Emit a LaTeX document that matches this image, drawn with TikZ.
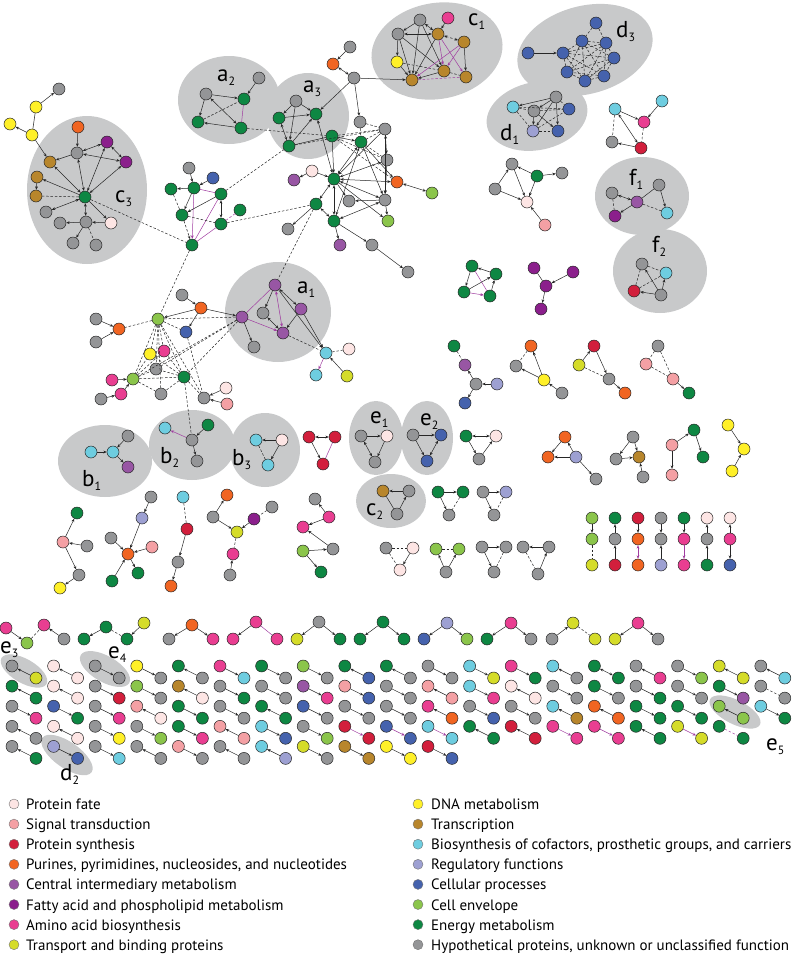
\documentclass[tikz,border=0pt]{standalone}
\usepackage{fontspec}
\setmainfont{PT Sans}
\newfontfamily\legfont{PT Sans}
\usetikzlibrary{arrows.meta}

\definecolor{colpf}{RGB}{253,229,228}
\definecolor{colst}{RGB}{244,160,164}
\definecolor{colps}{RGB}{210,31,60}
\definecolor{colpu}{RGB}{241,101,34}
\definecolor{colcim}{RGB}{152,86,164}
\definecolor{colfa}{RGB}{139,31,140}
\definecolor{colaa}{RGB}{233,62,145}
\definecolor{coltb}{RGB}{213,220,41}
\definecolor{coldna}{RGB}{255,240,40}
\definecolor{coltr}{RGB}{184,134,44}
\definecolor{colbc}{RGB}{110,205,224}
\definecolor{colrf}{RGB}{157,160,210}
\definecolor{colcp}{RGB}{69,98,173}
\definecolor{colce}{RGB}{139,197,75}
\definecolor{colem}{RGB}{14,135,67}
\definecolor{colhy}{RGB}{148,149,151}
\definecolor{colblob}{RGB}{200,201,202}
\definecolor{colvio}{RGB}{160,60,160}

\begin{document}
\begin{tikzpicture}[x=1pt,y=-1pt,
	nd/.style={circle,draw=black!85,line width=0.5pt,minimum size=12pt,inner sep=0pt,fill=col#1},
	swatch/.style={circle,draw=black!55,line width=0.4pt,minimum size=10pt,inner sep=0pt,fill=col#1},
	blob/.style={fill=colblob},
	lnk/.style={draw=black!85,line width=0.5pt,>={Stealth[length=3.4pt,width=2.8pt]}},
	fw/.style={lnk,->}, bw/.style={lnk,<-}, bi/.style={lnk,<->}, ln/.style={lnk,-},
	dl/.style={lnk,-,dash pattern=on 2.5pt off 1.8pt},
	dfw/.style={dl,->}, dbi/.style={dl,<->},
	pl/.style={lnk,-,draw=colvio}, pfw/.style={pl,->}, pbi/.style={pl,<->},
	pdl/.style={dl,draw=colvio},
	lab/.style={anchor=base west,inner sep=0pt,font=\fontsize{23}{23}\selectfont},
	leg/.style={anchor=base west,inner sep=0pt,font=\legfont\fontsize{15}{16}\selectfont}]

	\useasboundingbox (0,0) rectangle (794,954);

	% Draw blobs
	\fill[blob] (87,190) ellipse [x radius=60,y radius=74];
	\fill[blob] (229,100) ellipse [x radius=51,y radius=44];
	\fill[blob] (308,116) ellipse [x radius=41,y radius=43];
	\fill[blob] (278,312) ellipse [x radius=53,y radius=50];
	\fill[blob,rotate around={10:(437,51)}] (437,51) ellipse [x radius=66,y radius=48];
	\fill[blob,rotate around={15:(585,50)}] (585,50) ellipse [x radius=69,y radius=44];
	\fill[blob,rotate around={12:(537,116)}] (537,116) ellipse [x radius=51,y radius=34];
	\fill[blob] (642,196) ellipse [x radius=47,y radius=39];
	\fill[blob] (660,271) ellipse [x radius=47,y radius=42];
	\fill[blob] (105,461) ellipse [x radius=47,y radius=36];
	\fill[blob] (192,445) ellipse [x radius=43,y radius=35];
	\fill[blob] (265,450) ellipse [x radius=35,y radius=37];
	\fill[blob] (376,438) ellipse [x radius=27,y radius=37];
	\fill[blob] (427,438) ellipse [x radius=26,y radius=37];
	\fill[blob] (391,501) ellipse [x radius=35,y radius=27];
	\fill[blob,rotate around={-30:(24,671)}] (24,671) ellipse [x radius=26,y radius=12];
	\fill[blob,rotate around={-30:(105,669)}] (105,669) ellipse [x radius=28,y radius=13];
	\fill[blob,rotate around={-35:(67,755)}] (67,755) ellipse [x radius=30,y radius=13];
	\fill[blob,rotate around={-27:(735,712)}] (735,712) ellipse [x radius=28,y radius=12];

	% Yellow chain and c3
	\node[nd=hy] (yc1) at (59,89) {};
	\node[nd=dna] (yc2) at (36,107) {};
	\node[nd=dna] (yc3) at (10,124) {};
	\node[nd=dna] (yc4) at (32,135) {};
	\node[nd=pu] (c3o) at (78,127) {};
	\node[nd=hy] (c3g) at (77,153) {};
	\node[nd=fa] (c3p1) at (107,142) {};
	\node[nd=fa] (c3p2) at (126,162) {};
	\node[nd=tr] (c3b1) at (50,162) {};
	\node[nd=tr] (c3b2) at (37,177) {};
	\node[nd=tr] (c3b3) at (36,196) {};
	\node[nd=em] (c3e) at (85,197) {};
	\node[nd=hy] (c3h1) at (46,212) {};
	\node[nd=hy] (c3h2) at (60,223) {};
	\node[nd=hy] (c3h3) at (86,222) {};
	\node[nd=pf] (c3f) at (111,223) {};
	\node[nd=hy] (c3h4) at (73,243) {};
	\node[nd=hy] (c3h5) at (96,245) {};

	% Left middle cluster
	\node[nd=hy] (lmh) at (189,168) {};
	\node[nd=cp] (lmb) at (213,178) {};
	\node[nd=em] (lm1) at (171,189) {};
	\node[nd=em] (lm2) at (194,188) {};
	\node[nd=em] (lm3) at (221,194) {};
	\node[nd=em] (lm4) at (182,215) {};
	\node[nd=em] (lm5) at (240,210) {};
	\node[nd=em] (lm6) at (221,224) {};
	\node[nd=em] (lm7) at (192,245) {};

	% a2, a3
	\node[nd=hy] (a2h1) at (259,78) {};
	\node[nd=hy] (a2h2) at (206,94) {};
	\node[nd=em] (a2e1) at (244,99) {};
	\node[nd=em] (a2e2) at (198,122) {};
	\node[nd=em] (a2e3) at (241,128) {};
	\node[nd=hy] (a3h) at (296,101) {};
	\node[nd=em] (a3e1) at (279,118) {};
	\node[nd=em] (a3e2) at (316,114) {};
	\node[nd=em] (a3e3) at (289,146) {};
	\node[nd=em] (a3e4) at (332,136) {};

	% Central cluster
	\node[nd=hy] (ceh0) at (350,47) {};
	\node[nd=pu] (ceo) at (333,64) {};
	\node[nd=hy] (ceh1) at (354,78) {};
	\node[nd=hy] (ceh2) at (360,122) {};
	\node[nd=hy] (ceh3) at (385,129) {};
	\node[nd=em] (ceg1) at (361,142) {};
	\node[nd=hy] (ceh4) at (387,160) {};
	\node[nd=pf] (cepf) at (312,171) {};
	\node[nd=cim] (cecm) at (294,180) {};
	\node[nd=em] (ceg0) at (334,179) {};
	\node[nd=pu] (ceo2) at (397,182) {};
	\node[nd=ce] (cel) at (432,193) {};
	\node[nd=hy] (ceh5) at (349,201) {};
	\node[nd=hy] (ceh6) at (385,200) {};
	\node[nd=em] (ceg2) at (316,204) {};
	\node[nd=em] (ceg3) at (334,221) {};
	\node[nd=ce] (cel2) at (388,221) {};
	\node[nd=hy] (ceh7) at (288,229) {};
	\node[nd=cim] (cecm2) at (340,245) {};
	\node[nd=hy] (ceh8) at (372,245) {};
	\node[nd=hy] (ceh9) at (408,272) {};

	% c1
	\node[nd=hy] (c1h1) at (420,20) {};
	\node[nd=aa] (c1aa) at (448,18) {};
	\node[nd=hy] (c1h2) at (398,34) {};
	\node[nd=tr] (c1b1) at (438,34) {};
	\node[nd=tr] (c1b2) at (464,42) {};
	\node[nd=dna] (c1y) at (397,62) {};
	\node[nd=tr] (c1b3) at (444,71) {};
	\node[nd=tr] (c1b4) at (412,80) {};
	\node[nd=tr] (c1b5) at (466,77) {};

	% d3, d1
	\node[nd=cp] (d3a) at (596,23) {};
	\node[nd=cp] (d3b) at (528,53) {};
	\node[nd=cp] (d3c) at (563,53) {};
	\node[nd=cp] (d3d) at (582,41) {};
	\node[nd=cp] (d3e) at (606,43) {};
	\node[nd=cp] (d3f) at (614,58) {};
	\node[nd=cp] (d3g) at (604,76) {};
	\node[nd=cp] (d3h) at (585,81) {};
	\node[nd=cp] (d3i) at (567,72) {};
	\node[nd=bc] (d1c) at (513,107) {};
	\node[nd=hy] (d1h1) at (556,97) {};
	\node[nd=hy] (d1h2) at (534,111) {};
	\node[nd=cp] (d1b1) at (569,109) {};
	\node[nd=rf] (d1l) at (533,131) {};
	\node[nd=cp] (d1b2) at (558,131) {};

	% Right small clusters, f1, f2
	\node[nd=bc] (rsc1) at (615,109) {};
	\node[nd=bc] (rsc2) at (662,101) {};
	\node[nd=aa] (rsa) at (644,122) {};
	\node[nd=hy] (rsh) at (612,142) {};
	\node[nd=ps] (rsr) at (641,148) {};
	\node[nd=hy] (bdh1) at (512,164) {};
	\node[nd=em] (bde) at (537,176) {};
	\node[nd=hy] (bdh2) at (562,173) {};
	\node[nd=hy] (bdh3) at (495,189) {};
	\node[nd=pf] (bdf) at (527,202) {};
	\node[nd=st] (bds) at (545,225) {};
	\node[nd=hy] (f1h1) at (612,193) {};
	\node[nd=cim] (f1m) at (637,202) {};
	\node[nd=hy] (f1h2) at (659,185) {};
	\node[nd=fa] (f1f) at (615,216) {};
	\node[nd=bc] (f1c) at (667,213) {};
	\node[nd=hy] (f2h1) at (642,264) {};
	\node[nd=bc] (f2c) at (666,273) {};
	\node[nd=ps] (f2r) at (634,291) {};
	\node[nd=hy] (f2h2) at (661,295) {};
	\node[nd=em] (gs1) at (472,266) {};
	\node[nd=em] (gs2) at (496,274) {};
	\node[nd=em] (gs3) at (464,292) {};
	\node[nd=em] (gs4) at (490,296) {};
	\node[nd=fa] (psa) at (534,268) {};
	\node[nd=fa] (psb) at (573,272) {};
	\node[nd=fa] (psc) at (546,286) {};
	\node[nd=fa] (psd) at (541,309) {};

	% Lower middle cluster and a1
	\node[nd=hy] (mlh1) at (182,295) {};
	\node[nd=pu] (mlo1) at (201,308) {};
	\node[nd=ce] (mll1) at (158,319) {};
	\node[nd=hy] (mlh2) at (96,319) {};
	\node[nd=pu] (mlo2) at (119,329) {};
	\node[nd=hy] (mlh3) at (96,342) {};
	\node[nd=cp] (mlb) at (186,332) {};
	\node[nd=dna] (mly) at (150,354) {};
	\node[nd=aa] (mlaa1) at (164,351) {};
	\node[nd=hy] (mlh4) at (156,369) {};
	\node[nd=em] (mlg) at (184,377) {};
	\node[nd=aa] (mlaa2) at (112,380) {};
	\node[nd=ce] (mll2) at (133,379) {};
	\node[nd=aa] (mlaa3) at (121,394) {};
	\node[nd=hy] (mlh5) at (101,399) {};
	\node[nd=hy] (mlh6) at (161,394) {};
	\node[nd=hy] (mlh7) at (204,398) {};
	\node[nd=pf] (mlpf) at (226,388) {};
	\node[nd=st] (mlst) at (227,404) {};
	\node[nd=cim] (a1m1) at (275,285) {};
	\node[nd=cim] (a1m2) at (301,309) {};
	\node[nd=hy] (a1h) at (263,313) {};
	\node[nd=cim] (a1m3) at (242,317) {};
	\node[nd=cim] (a1m4) at (283,333) {};
	\node[nd=hy] (a1h2) at (254,347) {};
	\node[nd=bc] (a1c) at (326,353) {};
	\node[nd=pf] (a1pf) at (349,349) {};
	\node[nd=bc] (a1c2) at (316,375) {};
	\node[nd=tb] (a1tb) at (347,376) {};

	% b1, b2, b3 and small triangles
	\node[nd=bc] (b1c1) at (91,452) {};
	\node[nd=bc] (b1c2) at (113,452) {};
	\node[nd=hy] (b1h) at (128,436) {};
	\node[nd=cim] (b1m) at (128,467) {};
	\node[nd=bc] (b2c) at (165,428) {};
	\node[nd=em] (b2g) at (208,425) {};
	\node[nd=hy] (b2h1) at (192,440) {};
	\node[nd=hy] (b2h2) at (197,461) {};
	\node[nd=bc] (b3c1) at (256,440) {};
	\node[nd=pf] (b3pf) at (282,440) {};
	\node[nd=bc] (b3c2) at (268,465) {};
	\node[nd=ps] (rt1) at (309,437) {};
	\node[nd=ps] (rt2) at (335,437) {};
	\node[nd=ps] (rt3) at (323,464) {};
	\node[nd=hy] (e1h1) at (361,436) {};
	\node[nd=pf] (e1pf) at (387,436) {};
	\node[nd=hy] (e1h2) at (375,462) {};
	\node[nd=hy] (e2h) at (413,435) {};
	\node[nd=cp] (e2b1) at (441,435) {};
	\node[nd=cp] (e2b2) at (427,461) {};
	\node[nd=em] (t1g) at (466,436) {};
	\node[nd=pf] (t1pf) at (496,436) {};
	\node[nd=hy] (t1h) at (479,459) {};
	\node[nd=pu] (t2o1) at (565,437) {};
	\node[nd=pu] (t2o2) at (548,457) {};
	\node[nd=rf] (t2l) at (576,457) {};
	\node[nd=hy] (t2h) at (596,479) {};
	\node[nd=hy] (t3h1) at (633,437) {};
	\node[nd=hy] (t3h2) at (616,459) {};
	\node[nd=tr] (t3b) at (639,457) {};
	\node[nd=hy] (t3h3) at (643,477) {};
	\node[nd=em] (t4g1) at (694,430) {};
	\node[nd=st] (t4s1) at (672,445) {};
	\node[nd=em] (t4g2) at (703,457) {};
	\node[nd=st] (t4s2) at (672,475) {};
	\node[nd=dna] (t5y1) at (728,425) {};
	\node[nd=dna] (t5y2) at (744,449) {};
	\node[nd=dna] (t5y3) at (732,471) {};
	\node[nd=em] (t6g1) at (438,492) {};
	\node[nd=em] (t6g2) at (463,492) {};
	\node[nd=hy] (t6h) at (449,515) {};
	\node[nd=hy] (t7h1) at (483,492) {};
	\node[nd=rf] (t7l) at (506,492) {};
	\node[nd=hy] (t7h2) at (494,515) {};
	\node[nd=tr] (c2b) at (383,491) {};
	\node[nd=hy] (c2h1) at (409,491) {};
	\node[nd=hy] (c2h2) at (397,514) {};
	\node[nd=hy] (t8h) at (386,548) {};
	\node[nd=pf] (t8pf1) at (413,548) {};
	\node[nd=pf] (t8pf2) at (400,570) {};
	\node[nd=ce] (t9l1) at (436,549) {};
	\node[nd=ce] (t9l2) at (459,549) {};
	\node[nd=hy] (t9h) at (446,572) {};
	\node[nd=hy] (t10h1) at (482,547) {};
	\node[nd=hy] (t10h2) at (506,547) {};
	\node[nd=hy] (t10h3) at (494,572) {};
	\node[nd=hy] (t11h1) at (523,547) {};
	\node[nd=hy] (t11h2) at (549,547) {};
	\node[nd=hy] (t11h3) at (538,574) {};

	% Row of small groups right of a1
	\node[nd=em] (u1g) at (454,346) {};
	\node[nd=cim] (u1m) at (465,365) {};
	\node[nd=hy] (u1h) at (476,384) {};
	\node[nd=rf] (u1l) at (497,384) {};
	\node[nd=cp] (u1b) at (465,403) {};
	\node[nd=pu] (u2o) at (531,346) {};
	\node[nd=hy] (u2h1) at (516,366) {};
	\node[nd=dna] (u2y) at (544,380) {};
	\node[nd=hy] (u2h2) at (562,393) {};
	\node[nd=ps] (u3r) at (594,346) {};
	\node[nd=tb] (u3t) at (579,365) {};
	\node[nd=hy] (u3h) at (609,379) {};
	\node[nd=pu] (u3o) at (625,393) {};
	\node[nd=hy] (u4h) at (658,346) {};
	\node[nd=st] (u4s1) at (646,364) {};
	\node[nd=st] (u4s2) at (673,379) {};
	\node[nd=em] (u4g) at (689,393) {};

	% Lower left groups
	\node[nd=em] (v1g) at (77,513) {};
	\node[nd=st] (v1s) at (63,542) {};
	\node[nd=hy] (v1h1) at (87,546) {};
	\node[nd=hy] (v1h2) at (79,575) {};
	\node[nd=dna] (v1y) at (60,588) {};
	\node[nd=hy] (v2h1) at (151,497) {};
	\node[nd=rf] (v2l) at (142,518) {};
	\node[nd=hy] (v2h2) at (111,538) {};
	\node[nd=st] (v2s) at (152,547) {};
	\node[nd=pu] (v2o) at (128,554) {};
	\node[nd=em] (v2g1) at (112,581) {};
	\node[nd=em] (v2g2) at (138,573) {};
	\node[nd=bc] (v3c) at (183,497) {};
	\node[nd=ps] (v3r) at (187,529) {};
	\node[nd=hy] (v3h) at (178,562) {};
	\node[nd=pu] (v3o) at (171,586) {};
	\node[nd=pu] (v4o) at (227,495) {};
	\node[nd=hy] (v4h1) at (213,517) {};
	\node[nd=tb] (v4t) at (237,532) {};
	\node[nd=fa] (v4f) at (254,519) {};
	\node[nd=hy] (v4h2) at (272,507) {};
	\node[nd=aa] (v4aa) at (233,554) {};
	\node[nd=hy] (v4h3) at (230,575) {};
	\node[nd=hy] (v5h1) at (315,499) {};
	\node[nd=aa] (v5aa1) at (329,517) {};
	\node[nd=aa] (v5aa2) at (303,527) {};
	\node[nd=hy] (v5h2) at (333,549) {};
	\node[nd=ce] (v5l) at (303,551) {};
	\node[nd=em] (v5g) at (321,572) {};

	% Triplets row
	\node[nd=aa] (w1a) at (6,628) {};
	\node[nd=ce] (w1b) at (27,643) {};
	\node[nd=aa] (w1c) at (44,625) {};
	\node[nd=hy] (w1d) at (64,639) {};
	\node[nd=em] (w2a) at (84,639) {};
	\node[nd=em] (w2b) at (106,627) {};
	\node[nd=em] (w2c) at (127,639) {};
	\node[nd=tb] (w2d) at (144,623) {};
	\node[nd=hy] (w3a) at (169,639) {};
	\node[nd=pu] (w3b) at (192,625) {};
	\node[nd=aa] (w3c) at (213,639) {};
	\node[nd=aa] (w4a) at (233,639) {};
	\node[nd=aa] (w4b) at (256,622) {};
	\node[nd=aa] (w4c) at (277,639) {};
	\node[nd=tb] (w5a) at (297,639) {};
	\node[nd=hy] (w5b) at (319,622) {};
	\node[nd=em] (w5c) at (340,639) {};
	\node[nd=em] (w6a) at (360,639) {};
	\node[nd=em] (w6b) at (383,622) {};
	\node[nd=em] (w6c) at (404,639) {};
	\node[nd=cp] (w7a) at (424,639) {};
	\node[nd=rf] (w7b) at (447,623) {};
	\node[nd=ce] (w7c) at (467,639) {};
	\node[nd=em] (w8a) at (487,639) {};
	\node[nd=aa] (w8b) at (511,623) {};
	\node[nd=hy] (w8c) at (531,639) {};
	\node[nd=hy] (w9a) at (552,639) {};
	\node[nd=tb] (w9b) at (573,623) {};
	\node[nd=tb] (w9c) at (595,639) {};
	\node[nd=tb] (w10a) at (615,639) {};
	\node[nd=aa] (w10b) at (638,623) {};
	\node[nd=hy] (w10c) at (658,639) {};

	% Connectors
	\path (yc2) edge[fw] (yc1) edge[ln] (yc4);
	\path (yc4) edge[fw] (yc3) edge[fw] (c3b1);
	\path (c3o) edge[fw] (c3g);
	\path (c3g) edge[bi] (c3p1) edge[bi] (c3p2) edge[fw] (c3b1) edge[bi] (c3e);
	\path (c3p1) edge[bi] (c3p2);
	\path (c3b2) edge[fw] (c3b3);
	\path (c3e) edge[bi] (c3b1) edge[fw] (c3b2) edge[dl] (c3b3) edge[bi] (c3p1) edge[bi] (c3p2)
		edge[bi] (c3h1) edge[bi] (c3h3) edge[fw] (c3f) edge[dl] (lm7);
	\path (c3f) edge[fw] (c3h3);
	\path (c3h3) edge[fw] (c3h2) edge[fw] (c3h4) edge[dl] (c3h5);

	\path (lmh) edge[fw] (lm2);
	\path (lmb) edge[fw] (lm2);
	\path (lm2) edge[fw] (lm1) edge[pl] (lm3) edge[fw] (lm4) edge[pfw] (lm7);
	\path (lm3) edge[fw] (lm4) edge[bi] (lm6) edge[pl] (lm7) edge[dl] (a3e3);
	\path (lm5) edge[pdl] (lm6);
	\path (lm1) edge[dl] (lm4);
	\path (lm4) edge[dl] (lm6) edge[dfw] (lm7);
	\path (lm6) edge[pl] (lm7) edge[dl] (ceg2);
	\path (lm7) edge[dl] (mll1);

	\path (a2h1) edge[fw] (a2e1);
	\path (a2h2) edge[fw] (a2e1) edge[fw] (a2e2) edge[bi] (a2e3);
	\path (a2e2) edge[dl] (a2e1);
	\path (a2e3) edge[fw] (a2e2) edge[pl] (a2e1) edge[dl] (a3e4);
	\path (a3h) edge[fw] (a3e1) edge[fw] (a3e2) edge[fw] (a3e3);
	\path (a3e1) edge[fw] (a3e2) edge[bi] (a3e3);
	\path (a3e3) edge[fw] (a3e2) edge[ln] (a3e4) edge[dl] (ceh3);

	\path (ceh0) edge[fw] (ceo);
	\path (ceo) edge[bi] (ceh1);
	\path (ceh1) edge[fw] (c1b4) edge[fw] (a3e2) edge[fw] (ceh2);
	\path (ceh2) edge[dl] (ceh3) edge[dl] (ceg1);
	\path (a3e4) edge[dl] (ceh3) edge[fw] (ceg1) edge[fw] (ceg0) edge[dl] (ceh4) edge[dl] (ceo2);
	\path (a3e2) edge[bi] (ceg0);
	\path (ceh3) edge[bi] (ceh4) edge[dl] (ceg1) edge[fw] (ceg0) edge[fw] (ceh6);
	\path (ceg1) edge[bi] (ceg0) edge[fw] (ceh6) edge[fw] (ceo2) edge[bi] (ceg3) edge[dl] (ceh4);
	\path (ceg0) edge[bi] (ceh4) edge[bi] (ceo2) edge[bi] (ceh6) edge[fw] (ceh5) edge[bi] (ceg2)
		edge[bi] (ceg3) edge[fw] (cel2);
	\path (cepf) edge[fw] (ceg0) edge[fw] (cecm);
	\path (ceo2) edge[bi] (cel);
	\path (ceh4) edge[fw] (ceh6);
	\path (ceh6) edge[fw] (cel2) edge[bi] (ceg3) edge[fw] (ceh5);
	\path (ceg2) edge[fw] (ceh7) edge[bi] (ceg3) edge[dl] (a1m1);
	\path (ceg3) edge[fw] (cecm2) edge[fw] (ceh8);
	\path (ceh8) edge[fw] (ceh9);

	\path (c1h1) edge[fw] (c1h2) edge[bi] (c1b1) edge[fw] (c1b4) edge[fw] (c1b3);
	\path (c1aa) edge[fw] (c1b1);
	\path (c1h2) edge[bi] (c1b1) edge[fw] (c1y) edge[fw] (c1b4) edge[fw] (c1b3);
	\path (c1y) edge[fw] (c1b4) edge[dl] (c1b3);
	\path (c1b1) edge[fw] (c1b4) edge[dbi] (c1b2) edge[pfw] (c1b5) edge[pfw] (c1b3);
	\path (c1b2) edge[fw] (c1b5) edge[pfw] (c1b4) edge[pfw] (c1b3);
	\path (c1b3) edge[fw] (c1b4) edge[dl] (c1b5);
	\path (c1b4) edge[pdl] (c1b5);

	\path (d3b) edge[fw] (d3c);
	\path (d3a) edge[dl] (d3d) edge[dl] (d3e);
	\foreach \u/\v in {c/d,c/e,c/f,c/g,c/h,c/i,d/e,d/f,d/g,d/h,d/i,e/f,e/g,e/h,e/i,f/g,f/h,f/i,g/h,g/i,h/i}
		\path (d3\u) edge[dl] (d3\v);
	\path (d1h1) edge[fw] (d1c) edge[fw] (d1h2) edge[fw] (d1l) edge[fw] (d1b2) edge[dl] (d1b1);
	\path (d1c) edge[dl] (d1b1) edge[dl] (d1l) edge[dl] (d1h2);
	\path (d1h2) edge[fw] (d1l) edge[fw] (d1b2) edge[dl] (d1b1);
	\path (d1l) edge[dl] (d1b2) edge[dl] (d1b1);

	\path (rsc1) edge[fw] (rsa) edge[bi] (rsr) edge[dl] (rsh);
	\path (rsc2) edge[fw] (rsa);
	\path (rsa) edge[dl] (rsr);
	\path (rsr) edge[fw] (rsh);
	\path (bdh3) edge[fw] (bdh1) edge[fw] (bdf);
	\path (bde) edge[fw] (bdh1) edge[fw] (bdh2) edge[fw] (bdf);
	\path (bdh1) edge[fw] (bdf);
	\path (bds) edge[fw] (bdf);
	\path (f1h1) edge[bi] (f1m) edge[dl] (f1f);
	\path (f1m) edge[fw] (f1f) edge[dl] (f1c) edge[ln] (f1h2);
	\path (f1h2) edge[fw] (f1c);
	\path (f2h1) edge[dl] (f2c) edge[dl] (f2r);
	\path (f2r) edge[dl] (f2c);
	\path (f2h2) edge[fw] (f2h1) edge[fw] (f2r) edge[fw] (f2c);
	\path (gs2) edge[fw] (gs1);
	\path (gs1) edge[fw] (gs3) edge[pl] (gs4);
	\path (gs3) edge[pfw] (gs4) edge[fw] (gs2);
	\path (gs4) edge[fw] (gs2);
	\path (psc) edge[ln] (psa) edge[fw] (psd);
	\path (psb) edge[fw] (psc);

	\path (mlh1) edge[fw] (mlo1);
	\path (mlo1) edge[fw] (mll1) edge[fw] (mlb) edge[fw] (a1m3);
	\path (mlh2) edge[fw] (mlo2);
	\path (mlh3) edge[fw] (mlo2);
	\path (mll1) edge[dl] (mlo2) edge[dl] (a1m3) edge[dl] (mlb) edge[dl] (mly) edge[dl] (mlaa1)
		edge[dl] (mlh4) edge[dl] (mlg) edge[dl] (mll2) edge[dl] (mlh6) edge[dl] (mlh7);
	\path (mlb) edge[dl] (mlh7);
	\path (a1m3) edge[dl] (mll2) edge[dl] (mlg) edge[dl] (mlh4);
	\path (mll2) edge[dl] (mlg) edge[dl] (mlh4) edge[dl] (mly) edge[dl] (mlh6) edge[dl] (mlaa1);
	\path (mlaa2) edge[fw] (mll2);
	\path (mlh5) edge[fw] (mlaa3);
	\path (mlaa3) edge[fw] (mll2);
	\path (mlg) edge[dl] (mlh6) edge[dl] (mlh7) edge[dl] (mly) edge[dl] (mlaa1) edge[dl] (mlh4) edge[dl] (b2h1);
	\path (mlpf) edge[fw] (mlh7);
	\path (mlst) edge[fw] (mlh7);
	\path (a1m1) edge[fw] (a1h) edge[pbi] (a1m4) edge[pl] (a1m3) edge[bi] (a1m2) edge[fw] (a1c);
	\path (a1m2) edge[fw] (a1m4) edge[fw] (a1c);
	\path (a1m3) edge[pfw] (a1m4) edge[fw] (a1h2);
	\path (a1h) edge[bi] (a1m4);
	\path (a1m4) edge[dl] (a1c);
	\path (a1c) edge[dl] (a1pf) edge[pfw] (a1c2);
	\path (a1tb) edge[fw] (a1c);

	\path (b1c1) edge[fw] (b1c2);
	\path (b1h) edge[fw] (b1c2);
	\path (b1c2) edge[fw] (b1m);
	\path (b2h1) edge[pfw] (b2c) edge[fw] (b2h2);
	\path (b2g) edge[fw] (b2h1);
	\path (b3pf) edge[fw] (b3c1) edge[fw] (b3c2);
	\path (b3c1) edge[dl] (b3c2);
	\path (rt1) edge[bi] (rt2) edge[fw] (rt3);
	\path (rt2) edge[pl] (rt3);
	\path (e1h1) edge[fw] (e1pf) edge[bi] (e1h2);
	\path (e1pf) edge[fw] (e1h2);
	\path (e2h) edge[fw] (e2b1) edge[fw] (e2b2);
	\path (e2b1) edge[bi] (e2b2);
	\path (t1g) edge[bi] (t1pf) edge[fw] (t1h);
	\path (t1h) edge[fw] (t1pf);
	\path (t2o1) edge[fw] (t2o2);
	\path (t2l) edge[fw] (t2o2) edge[fw] (t2h) edge[fw] (t2o1);
	\path (t3h1) edge[fw] (t3h2) edge[fw] (t3b);
	\path (t3h2) edge[fw] (t3b);
	\path (t3h3) edge[fw] (t3b);
	\path (t4s1) edge[fw] (t4g1) edge[fw] (t4s2);
	\path (t4g1) edge[fw] (t4g2);
	\path (t5y1) edge[fw] (t5y2);
	\path (t5y3) edge[fw] (t5y2);
	\path (t6g1) edge[fw] (t6g2) edge[fw] (t6h);
	\path (t6g2) edge[dl] (t6h);
	\path (t7h1) edge[fw] (t7l) edge[fw] (t7h2);
	\path (t7l) edge[dl] (t7h2);
	\path (c2h1) edge[fw] (c2b);
	\path (c2b) edge[ln] (c2h2);
	\path (c2h2) edge[fw] (c2h1);
	\path (t8h) edge[dl] (t8pf1) edge[dl] (t8pf2);
	\path (t8pf1) edge[fw] (t8pf2);
	\path (t9l1) edge[dl] (t9l2);
	\path (t9h) edge[fw] (t9l1) edge[fw] (t9l2);
	\path (t10h1) edge[fw] (t10h2) edge[fw] (t10h3);
	\path (t10h2) edge[dl] (t10h3);
	\path (t11h2) edge[fw] (t11h1);
	\path (t11h1) edge[dl] (t11h3);
	\path (t11h3) edge[fw] (t11h2);

	\path (u1g) edge[dl] (u1m);
	\path (u1h) edge[fw] (u1m) edge[fw] (u1b);
	\path (u1l) edge[fw] (u1h);
	\path (u2o) edge[dl] (u2h1);
	\path (u2y) edge[fw] (u2o) edge[fw] (u2h1);
	\path (u2h2) edge[fw] (u2y);
	\path (u3t) edge[fw] (u3r) edge[dl] (u3h);
	\path (u3r) edge[fw] (u3h);
	\path (u3h) edge[fw] (u3o);
	\path (u4h) edge[dl] (u4s1) edge[dl] (u4s2);
	\path (u4s1) edge[dl] (u4s2);
	\path (u4s2) edge[fw] (u4g);

	\path (v1s) edge[fw] (v1g) edge[fw] (v1h2);
	\path (v1h1) edge[fw] (v1s);
	\path (v1h2) edge[fw] (v1y);
	\path (v2h1) edge[fw] (v2l);
	\path (v2l) edge[fw] (v2o);
	\path (v2h2) edge[fw] (v2o);
	\path (v2s) edge[fw] (v2o);
	\path (v2o) edge[fw] (v2g2);
	\path (v2g1) edge[fw] (v2o);
	\path (v3c) edge[dl] (v3r);
	\path (v3r) edge[fw] (v3h);
	\path (v3h) edge[fw] (v3o);
	\path (v4h1) edge[fw] (v4o) edge[fw] (v4t);
	\path (v4f) edge[fw] (v4t);
	\path (v4h2) edge[dl] (v4f);
	\path (v4t) edge[dl] (v4aa);
	\path (v4h3) edge[fw] (v4aa);
	\path (v5aa1) edge[fw] (v5h1) edge[fw] (v5aa2);
	\path (v5h2) edge[fw] (v5aa2);
	\path (v5l) edge[fw] (v5h2) edge[fw] (v5g);

	\path (w1a) edge[fw] (w1b);
	\path (w1b) edge[dl] (w1c);
	\path (w1d) edge[fw] (w1c);
	\path (w2b) edge[fw] (w2a) edge[dl] (w2c);
	\path (w2d) edge[fw] (w2c);
	\path (w3b) edge[fw] (w3a) edge[fw] (w3c);
	\path (w4b) edge[fw] (w4a) edge[pl] (w4c);
	\path (w5b) edge[fw] (w5a) edge[fw] (w5c);
	\path (w6b) edge[fw] (w6a) edge[fw] (w6c);
	\path (w7b) edge[fw] (w7a) edge[fw] (w7c);
	\path (w8b) edge[fw] (w8a) edge[fw] (w8c);
	\path (w9a) edge[fw] (w9b);
	\path (w9b) edge[dl] (w9c);
	\path (w10b) edge[fw] (w10a) edge[fw] (w10c);

	% Vertical triplets
	\foreach \i/\ca/\cb/\cc/\ea/\eb in {0/ce/ce/tb/fw/dl, 1/em/hy/ps/bw/bw, 2/ps/pu/pu/fw/pbi,
		3/hy/hy/rf/fw/bw, 4/em/aa/aa/fw/pfw, 5/pf/hy/em/bw/bw, 6/pf/aa/cp/bw/fw}{
		\node[nd=\ca] (vt\i) at ({592+23*\i},518) {};
		\node[nd=\cb] (vm\i) at ({592+23*\i},539) {};
		\node[nd=\cc] (vb\i) at ({592+23*\i},565) {};
		\draw[\ea] (vt\i) -- (vm\i);
		\draw[\eb] (vm\i) -- (vb\i);
	}

	% Pairs
	\foreach \c/\r/\cl/\cr/\e in {
		0/1/hy/tb/bw, 0/2/em/em/bw, 0/3/hy/aa/fw, 0/4/hy/hy/bw, 0/5/hy/em/bw,
		1/1/pf/pf/bw, 1/2/pf/pf/bw, 1/3/cp/em/fw, 1/4/pf/pf/bw, 1/5/rf/cp/fw,
		2/1/hy/hy/fw, 2/2/hy/ps/fw, 2/3/hy/aa/fw, 2/4/hy/dna/fw, 2/5/hy/bc/fw,
		3/1/dna/hy/fw, 3/2/ce/hy/fw, 3/3/st/pf/bw, 3/4/hy/ce/fw, 3/5/hy/hy/bw,
		4/1/em/hy/bw, 4/2/tr/pf/bw, 4/3/em/em/fw, 4/4/em/aa/fw, 4/5/st/hy/fw,
		5/1/aa/bc/fw, 5/2/hy/em/fw, 5/3/hy/hy/fw, 5/4/st/st/bw, 5/5/hy/hy/bw,
		6/1/em/hy/fw, 6/2/hy/hy/fw, 6/3/em/em/bw, 6/4/bc/cp/fw, 6/5/bc/rf/bw,
		7/1/ce/hy/fw, 7/2/cim/aa/fw, 7/3/cp/hy/fw, 7/4/hy/ce/fw, 7/5/tb/hy/fw,
		8/1/em/cp/bw, 8/2/st/cp/fw, 8/3/hy/hy/fw, 8/4/ps/ps/pfw, 8/5/tr/tr/fw,
		9/1/em/hy/bw, 9/2/hy/hy/fw, 9/3/hy/hy/fw, 9/4/cp/cp/pfw, 9/5/dna/dna/fw,
		10/1/hy/hy/fw, 10/2/st/st/bw, 10/3/aa/pu/bw, 10/4/bc/bc/pfw, 10/5/ps/cp/fw,
		11/1/bc/tb/fw, 11/2/bc/aa/fw, 11/3/hy/cp/fw, 11/4/em/em/bw,
		12/1/aa/em/fw, 12/2/pf/pf/bw, 12/3/hy/hy/fw, 12/4/ps/ps/bw,
		13/1/bc/hy/bw, 13/2/hy/hy/fw, 13/3/bc/tr/bw, 13/4/aa/aa/pfw,
		14/1/em/em/bi, 14/2/em/hy/fw, 14/3/pu/pu/bw, 14/4/aa/aa/pfw,
		15/1/hy/aa/bw, 15/2/hy/em/fw, 15/3/em/em/fw, 15/4/em/em/bw,
		16/1/hy/ce/fw, 16/2/hy/hy/fw, 16/3/em/em/fw, 16/4/tb/tb/pfw,
		17/1/tb/tb/bw, 17/2/em/cim/fw, 17/3/ce/ce/bw, 17/4/em/em/pdl,
		18/1/hy/bc/bw, 18/2/hy/hy/dl, 18/3/bc/em/fw}{
		\node[nd=\cl] (gl\c-\r) at ({12+41.6*\c},{666+20.1*(\r-1)}) {};
		\node[nd=\cr] (gr\c-\r) at ({36+41.6*\c},{678+20.1*(\r-1)}) {};
		\draw[\e] (gl\c-\r) -- (gr\c-\r);
	}

	% Labels
	\node[lab] (lc3) at (115,202) {c\raisebox{-4pt}{\large 3}};
	\node[lab] (la2) at (217,81) {a\raisebox{-4pt}{\large 2}};
	\node[lab] (la3) at (303,92) {a\raisebox{-4pt}{\large 3}};
	\node[lab] (la1) at (297,293) {a\raisebox{-4pt}{\large 1}};
	\node[lab] (lc1) at (468,25) {c\raisebox{-4pt}{\large 1}};
	\node[lab] (ld3) at (616,37) {d\raisebox{-4pt}{\large 3}};
	\node[lab] (ld1) at (500,140) {d\raisebox{-4pt}{\large 1}};
	\node[lab] (lf1) at (629,185) {f\raisebox{-4pt}{\large 1}};
	\node[lab] (lf2) at (652,252) {f\raisebox{-4pt}{\large 2}};
	\node[lab] (lb1) at (82,486) {b\raisebox{-4pt}{\large 1}};
	\node[lab] (lb2) at (160,463) {b\raisebox{-4pt}{\large 2}};
	\node[lab] (lb3) at (232,465) {b\raisebox{-4pt}{\large 3}};
	\node[lab] (le1) at (370,423) {e\raisebox{-4pt}{\large 1}};
	\node[lab] (le2) at (420,425) {e\raisebox{-4pt}{\large 2}};
	\node[lab] (lc2) at (366,515) {c\raisebox{-4pt}{\large 2}};
	\node[lab] (le3) at (0,653) {e\raisebox{-4pt}{\large 3}};
	\node[lab] (le4) at (108,658) {e\raisebox{-4pt}{\large 4}};
	\node[lab] (ld2) at (60,780) {d\raisebox{-4pt}{\large 2}};
	\node[lab] (le5) at (766,750) {e\raisebox{-4pt}{\large 5}};

	% Legend
	\foreach \cl/\tx [count=\i from 0] in {pf/Protein fate, st/Signal transduction, ps/Protein synthesis,
		pu/{Purines, pyrimidines, nucleosides, and nucleotides}, cim/Central intermediary metabolism,
		fa/Fatty acid and phospholipid metabolism, aa/Amino acid biosynthesis, tb/Transport and binding proteins}{
		\node[swatch=\cl] (k-\cl) at (14,{804+20.1*\i}) {};
		\node[leg] (t-\cl) at (26,{809.5+20.1*\i}) {\tx};
	}
	\foreach \cl/\tx [count=\i from 0] in {dna/DNA metabolism, tr/Transcription,
		bc/{Biosynthesis of cofactors, prosthetic groups, and carriers}, rf/Regulatory functions,
		cp/Cellular processes, ce/Cell envelope, em/Energy metabolism,
		hy/{Hypothetical proteins, unknown or unclassified function}}{
		\node[swatch=\cl] (k-\cl) at (418,{804+20.1*\i}) {};
		\node[leg] (t-\cl) at (431,{809.5+20.1*\i}) {\tx};
	}

\end{tikzpicture}
\end{document}
